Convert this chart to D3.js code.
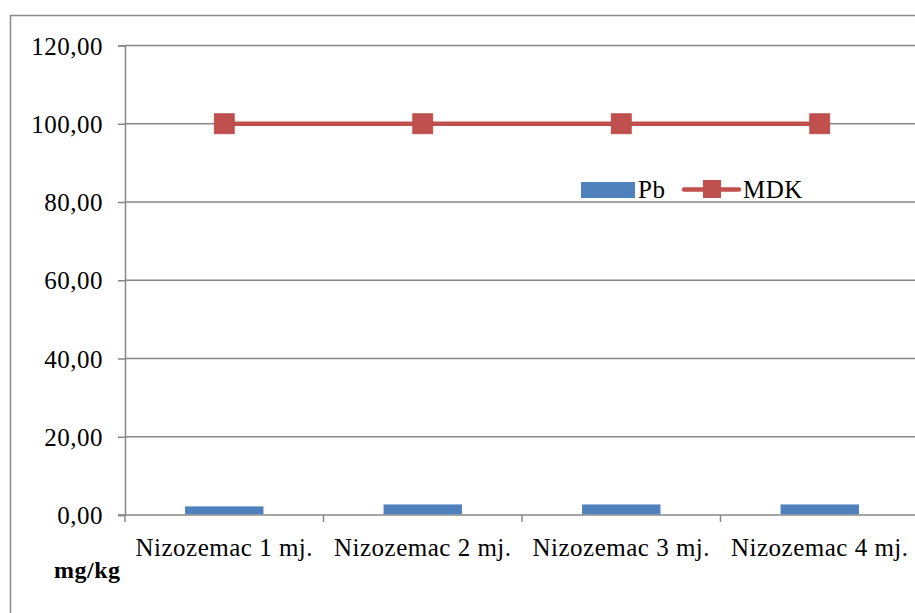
<!DOCTYPE html>
<html>
<head>
<meta charset="utf-8">
<script src="https://cdn.jsdelivr.net/npm/d3@7"></script>
<style>
html,body{margin:0;padding:0;background:#fff;}
svg{display:block;}
</style>
</head>
<body>
<svg id="chart" width="915" height="613"></svg>
<script>
const categories = ["Nizozemac 1 mj.", "Nizozemac 2 mj.", "Nizozemac 3 mj.", "Nizozemac 4 mj."];
const pbValues = [2.2, 2.7, 2.7, 2.7];
const mdkValues = [100, 100, 100, 100];
const yTicks = [0, 20, 40, 60, 80, 100, 120];
const seriesNames = ["Pb", "MDK"];
const yUnit = "mg/kg";

(function () {
const FONT = "Liberation Serif";
const svg = d3.select("#chart");
const W = 915, H = 613;
const mLeft = 125, mRight = 919, mTop = 45.5, mBottom = 515;
const gridColor = "#878787";
const barColor = "#4F81BD";
const lineColor = "#C0504D";
const styleText = sel => sel.style("font-family", FONT).style("font-size", "25px")
  .style("letter-spacing", "0.5px").attr("fill", "#000");

// outer border
svg.append("path")
  .attr("d", `M10.5,${H+5} L10.5,15.5 L${W+5},15.5`)
  .attr("fill", "none").attr("stroke", "#8a8a8a").attr("stroke-width", 1.5);

const x = d3.scaleBand().domain(categories).range([mLeft, mRight]).padding(0);
const y = d3.scaleLinear().domain([0, 120]).range([mBottom, mTop]);
const fmt = v => d3.format(".2f")(v).replace(".", ",");

// gridlines
svg.append("g").selectAll("line").data(yTicks.filter(d => d > 0)).join("line")
  .attr("x1", mLeft).attr("x2", W + 5)
  .attr("y1", d => y(d)).attr("y2", d => y(d))
  .attr("stroke", gridColor).attr("stroke-width", 1.5);

// y axis
const yAxis = d3.axisLeft(y).tickValues(yTicks).tickSize(7).tickFormat(fmt).tickPadding(15);
const gy = svg.append("g").attr("transform", `translate(${mLeft},0)`).call(yAxis)
  .attr("font-family", FONT);
gy.select(".domain").attr("stroke", gridColor).attr("stroke-width", 1.5);
gy.selectAll(".tick line").attr("stroke", gridColor).attr("stroke-width", 1.5);
gy.selectAll(".tick text").call(styleText).attr("dy", "0.34em");

// x axis
const gx = svg.append("g").attr("transform", `translate(0,${mBottom})`);
gx.append("line").attr("x1", mLeft - 7).attr("x2", W + 5).attr("y1", 0).attr("y2", 0)
  .attr("stroke", gridColor).attr("stroke-width", 1.5);
const bounds = categories.map(c => x(c)).concat([x(categories[3]) + x.bandwidth()]);
gx.selectAll("line.tk").data(bounds).join("line").attr("class", "tk")
  .attr("x1", d => d).attr("x2", d => d).attr("y1", 0).attr("y2", 7)
  .attr("stroke", gridColor).attr("stroke-width", 1.5);
gx.selectAll("text").data(categories).join("text")
  .attr("x", d => x(d) + x.bandwidth() / 2).attr("y", 41)
  .attr("text-anchor", "middle").call(styleText).text(d => d);

// bars
const bw = x.bandwidth() * 0.395;
svg.append("g").selectAll("rect").data(pbValues).join("rect")
  .attr("x", (d, i) => x(categories[i]) + x.bandwidth() / 2 - bw / 2)
  .attr("y", d => y(d)).attr("width", bw).attr("height", d => mBottom - y(d) - 0.75)
  .attr("fill", barColor);

// MDK line
const line = d3.line().x((d, i) => x(categories[i]) + x.bandwidth() / 2).y(d => y(d));
svg.append("path").datum(mdkValues).attr("d", line)
  .attr("fill", "none").attr("stroke", lineColor).attr("stroke-width", 4.5);
svg.append("g").selectAll("rect").data(mdkValues).join("rect")
  .attr("x", (d, i) => x(categories[i]) + x.bandwidth() / 2 - 10)
  .attr("y", d => y(d) - 10).attr("width", 20).attr("height", 20)
  .attr("fill", lineColor).attr("stroke", "#b84a47").attr("stroke-width", 0.8);

// legend
const lg = svg.append("g");
lg.append("rect").attr("x", 581).attr("y", 182).attr("width", 54).attr("height", 16).attr("fill", barColor);
lg.append("text").attr("x", 638).attr("y", 198).call(styleText).text(seriesNames[0]);
lg.append("line").attr("x1", 684).attr("x2", 739).attr("y1", 189.5).attr("y2", 189.5)
  .attr("stroke", lineColor).attr("stroke-width", 4.5).attr("stroke-linecap", "round");
lg.append("rect").attr("x", 703).attr("y", 180).attr("width", 18).attr("height", 18).attr("fill", lineColor);
lg.append("text").attr("x", 743).attr("y", 198).call(styleText).text(seriesNames[1]);

// unit label
svg.append("text").attr("x", 54).attr("y", 578).call(styleText)
  .style("font-size", "24px").style("font-weight", "bold").text(yUnit);
})();
</script>
</body>
</html>
